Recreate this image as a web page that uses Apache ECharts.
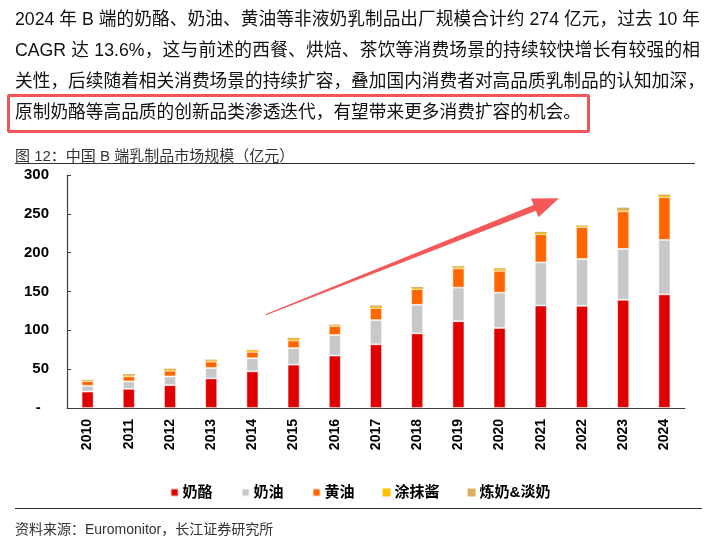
<!DOCTYPE html>
<html>
<head>
<meta charset="utf-8">
<script src="https://cdn.jsdelivr.net/npm/echarts@6/dist/echarts.min.js"></script>
<style>
  html, body { margin: 0; padding: 0; background: #fff; }
  body { width: 720px; height: 544px; position: relative; overflow: hidden;
         font-family: "Liberation Sans", Arial, "Noto Sans CJK SC", sans-serif; }
  #chart { position: absolute; left: 0; top: 0; width: 720px; height: 544px; }
  .line { position: absolute; left: 15px; width: 685px; font-size: 17.7px; line-height: 24px;
          color: #111; text-align: justify; text-align-last: justify; white-space: nowrap; }
  .line.last { text-align-last: left; }
  .box { position: absolute; left: 7px; top: 94px; width: 577px; height: 33px;
         border: 3px solid #f25555; border-radius: 2px; }
  .caption { position: absolute; left: 15px; top: 144px; font-size: 15px; color: #333; }
  .rule { position: absolute; height: 0; border-top: 1.5px solid #333; }
  .source { position: absolute; left: 15px; top: 518px; font-size: 14px; color: #333; }
</style>
</head>
<body>
<div id="chart"></div>
<div class="line" style="top:7px">2024 年 B 端的奶酪、奶油、黄油等非液奶乳制品出厂规模合计约 274 亿元，过去 10 年</div>
<div class="line" style="top:38px">CAGR 达 13.6%，这与前述的西餐、烘焙、茶饮等消费场景的持续较快增长有较强的相</div>
<div class="line" style="top:69px">关性，后续随着相关消费场景的持续扩容，叠加国内消费者对高品质乳制品的认知加深，</div>
<div class="line last" style="top:100px">原制奶酪等高品质的创新品类渗透迭代，有望带来更多消费扩容的机会。</div>
<div class="box"></div>
<div class="caption">图 12：中国 B 端乳制品市场规模（亿元）</div>
<div class="rule" style="left:15px; width:680px; top:163px"></div>
<div class="rule" style="left:15px; width:687px; top:508px"></div>
<div class="source">资料来源：Euromonitor，长江证券研究所</div>
<script>
// 数据（亿元）
const years = ['2010', '2011', '2012', '2013', '2014', '2015', '2016', '2017', '2018', '2019', '2020', '2021', '2022', '2023', '2024']
const cheese = [21.2, 24.7, 29.4, 38.1, 47.2, 55.8, 67.5, 82.0, 96.1, 111.7, 103.0, 132.0, 131.6, 139.4, 146.3]
const cream = [7.4, 9.5, 11.3, 13.4, 16.9, 21.3, 26.5, 31.2, 36.8, 43.3, 45.5, 55.4, 60.2, 65.4, 70.2]
const butter = [6.0, 6.5, 7.3, 8.2, 8.2, 9.9, 11.6, 15.4, 20.3, 24.7, 28.1, 36.4, 41.1, 48.4, 54.9]
const spread = [0.8, 1.0, 1.0, 1.1, 1.6, 1.8, 0.8, 1.6, 1.2, 1.4, 1.8, 1.6, 1.2, 1.4, 1.6]
const condensed = [1.0, 2.0, 1.6, 1.5, 1.0, 1.5, 1.0, 1.8, 1.4, 1.6, 1.6, 1.4, 0.9, 3.4, 1.8]
const seriesNames = ['奶酪', '奶油', '黄油', '涂抹酱', '炼奶&淡奶']
const colors = ['#e00000', '#c8c8c8', '#ff6600', '#ffc000', '#dcae62']
// 趋势箭头：[类目序号, 数值]
const arrowFrom = [4.32, 120]
const arrowTo = [11.44, 270]

const labelFont = { fontFamily: '"Liberation Sans", Arial, sans-serif', fontWeight: 'bold', fontSize: 15, color: '#000' }

const chart = echarts.init(document.getElementById('chart'))

// 细的顶层不加描边，否则会被白边盖住
const makeSeries = (name, data, color, border = 0.8) => ({
  name,
  type: 'bar',
  stack: 'total',
  barWidth: 12,
  data,
  itemStyle: { color, borderColor: 'rgba(255,255,255,0.75)', borderWidth: border },
})

chart.setOption({
  animation: false,
  color: colors,
  grid: { left: 67, right: 35, top: 175, bottom: 136 },
  legend: {
    top: 480,
    left: 'center',
    itemWidth: 8,
    itemHeight: 8,
    itemGap: 28,
    icon: 'rect',
    textStyle: { fontFamily: '"Liberation Sans", "Noto Sans CJK SC", sans-serif', fontWeight: 'bold', fontSize: 15, color: '#000', padding: [0, 0, 0, -1] },
    data: seriesNames,
  },
  xAxis: {
    type: 'category',
    data: years,
    axisLine: { lineStyle: { color: '#404040', width: 1.2 } },
    axisTick: { inside: true, length: 4, lineStyle: { color: '#404040' } },
    axisLabel: { ...labelFont, fontSize: 14, rotate: 90, margin: 11, interval: 0 },
  },
  yAxis: {
    type: 'value',
    min: 0,
    max: 300,
    interval: 50,
    splitLine: { show: false },
    axisLine: { show: true, lineStyle: { color: '#404040', width: 1.2 } },
    axisTick: { show: true, inside: true, length: 4, lineStyle: { color: '#404040' } },
    axisLabel: { ...labelFont, margin: 18, formatter: v => (v === 0 ? '-  ' : String(v)) },
  },
  series: [
    makeSeries(seriesNames[0], cheese, colors[0]),
    makeSeries(seriesNames[1], cream, colors[1]),
    makeSeries(seriesNames[2], butter, colors[2]),
    makeSeries(seriesNames[3], spread, colors[3], 0),
    makeSeries(seriesNames[4], condensed, colors[4], 0),
  ],
})

// 箭头按坐标轴换算到像素
const toPixel = ([idx, val]) => {
  const x0 = chart.convertToPixel({ xAxisIndex: 0 }, 0)
  const x1 = chart.convertToPixel({ xAxisIndex: 0 }, 1)
  return [x0 + (x1 - x0) * idx, chart.convertToPixel({ yAxisIndex: 0 }, val)]
}
const s = toPixel(arrowFrom)
const t = toPixel(arrowTo)
const len = Math.hypot(t[0] - s[0], t[1] - s[1])
const u = [(t[0] - s[0]) / len, (t[1] - s[1]) / len]
const n = [-u[1], u[0]]
const headLen = 26, headHalf = 10
const b = [t[0] - u[0] * headLen, t[1] - u[1] * headLen]
const off = (p, k) => [p[0] + n[0] * k, p[1] + n[1] * k]

chart.setOption({
  graphic: [{
    type: 'polygon',
    z: 100,
    shape: { points: [off(s, 0.6), off(b, 3.2), off(b, headHalf), t, off(b, -headHalf), off(b, -3.2), off(s, -0.6)] },
    style: { fill: '#f45858' },
  }],
})
</script>
</body>
</html>
